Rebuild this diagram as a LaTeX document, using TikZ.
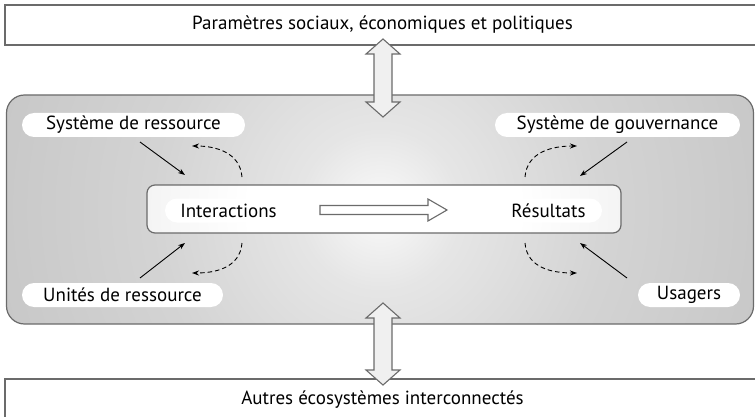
\documentclass[tikz,border=0pt]{standalone}
\usepackage{fontspec}
\setmainfont{PT Sans}
\usetikzlibrary{arrows.meta}

\definecolor{edgegray}{HTML}{6B6B6B}
\definecolor{arrowfill}{HTML}{F0F0F0}

\pgfdeclareradialshading{worldglow}{\pgfpoint{0bp}{0bp}}{color(0bp)=(gray!4); color(5bp)=(gray!20); color(14bp)=(gray!34); color(32bp)=(gray!50); color(46bp)=(gray!62); color(50bp)=(gray!65)}
\pgfdeclareradialshading{coreglow}{\pgfpoint{0bp}{0bp}}{color(0bp)=(white); color(14bp)=(white); color(34bp)=(gray!16); color(50bp)=(gray!38)}

% vertical double arrow: x, top tip, bottom tip
\newcommand{\updown}[3]{%
  \draw [hollow] (#1,#2) -- (#1+17,#2+15) -- (#1+9,#2+15) -- (#1+9,#3-15) -- (#1+17,#3-15)
    -- (#1,#3) -- (#1-17,#3-15) -- (#1-9,#3-15) -- (#1-9,#2+15) -- (#1-17,#2+15) -- cycle;}

\begin{document}
\begin{tikzpicture}
[
    x=1pt, y=-1pt,
    font=\fontsize{19}{22}\selectfont,
    framebox/.style={draw=edgegray, line width=1.2pt, fill=white, minimum width=755pt, inner sep=0pt},
    pill/.style={fill=white, rounded corners=12pt, minimum height=24pt, inner sep=0pt},
    hollow/.style={draw=edgegray, line width=1.1pt, fill=arrowfill, line join=miter},
    feed/.style={-{Stealth[length=7pt,width=5pt]}, line width=0.9pt},
    back/.style={-{Stealth[length=7pt,width=5pt]}, line width=0.9pt, dash pattern=on 4.5pt off 3pt},
]
\useasboundingbox (0,0) rectangle (755,417);

% outer frames
\node [framebox, minimum height=40pt] (params) at (382.5,25) {Paramètres sociaux, économiques et politiques};
\node [framebox, minimum height=42pt] (autres) at (382.5,400) {Autres écosystèmes interconnectés};

% action situation
\node [draw=edgegray, line width=1.2pt, rounded corners=18pt, minimum width=747pt, minimum height=229pt,
       path picture={\shade[shading=worldglow] (path picture bounding box.center) circle (400pt);}]
      (world) at (380,209.5) {};
\node [draw=edgegray, line width=1.2pt, rounded corners=8pt, minimum width=474pt, minimum height=48pt,
       path picture={\shade[shading=coreglow] (path picture bounding box.center) circle (240pt);}]
      (core) at (384,209) {};

% links to the outside
\updown{383}{39}{117}
\updown{383}{303}{385}

% subsystems
\node [pill, minimum width=223pt] (sysres) at (133.5,125) {Système de ressource};
\node [pill, minimum width=245pt] (sysgov) at (617.5,125) {Système de gouvernance};
\node [pill, minimum width=201pt] (unites) at (122.5,295) {Unités de ressource};
\node [pill, minimum width=102pt] (usagers) at (689,295) {Usagers};
\node [pill, minimum width=127pt] (inter) at (228.5,210.5) {Interactions};
\node [pill, minimum width=107pt] (result) at (548.5,210.5) {Résultats};

\draw [hollow, fill=white] (320,205.5) -- (428,205.5) -- (428,199) -- (447,210)
    -- (428,221) -- (428,214.5) -- (320,214.5) -- cycle;

% arrow ends
\coordinate (sr-a) at (140,142);  \coordinate (sr-b) at (185,175);
\coordinate (ur-a) at (140,278);  \coordinate (ur-b) at (185,243);
\coordinate (sg-a) at (627,142);  \coordinate (sg-b) at (580,176);
\coordinate (us-a) at (627,278);  \coordinate (us-b) at (580,243);
\coordinate (il-t) at (242,177);  \coordinate (il-u) at (192,146);
\coordinate (il-b) at (242,243);  \coordinate (il-d) at (192,273);
\coordinate (rl-t) at (525,177);  \coordinate (rl-u) at (577,146);
\coordinate (rl-b) at (525,243);  \coordinate (rl-d) at (577,273);

\draw [feed] (sr-a) -- (sr-b);
\draw [feed] (ur-a) -- (ur-b);
\draw [feed] (sg-a) -- (sg-b);
\draw [feed] (us-a) -- (us-b);

\draw [back] (il-t) .. controls (240,152) and (215,146) .. (il-u);
\draw [back] (il-b) .. controls (240,268) and (215,273) .. (il-d);
\draw [back] (rl-t) .. controls (527,152) and (552,146) .. (rl-u);
\draw [back] (rl-b) .. controls (527,268) and (552,273) .. (rl-d);
\end{tikzpicture}
\end{document}
